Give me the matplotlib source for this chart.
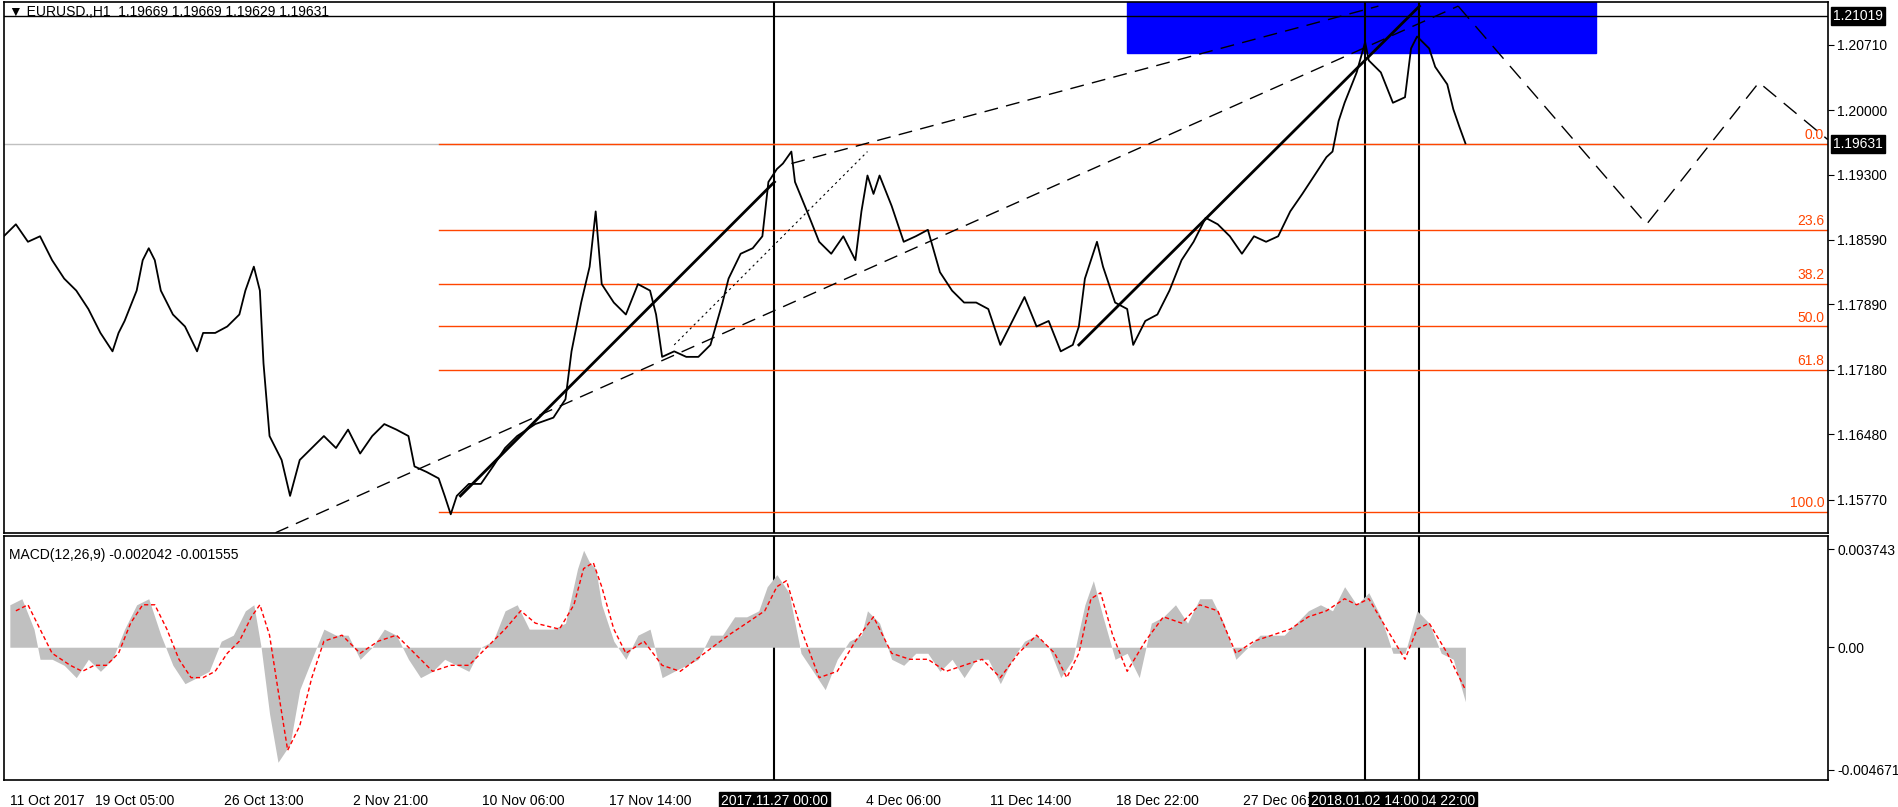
import matplotlib
matplotlib.use("Agg")
from matplotlib import pyplot as plt
from matplotlib.patches import Rectangle

# x positions are chart columns (bar-time proxy)
price_x = [0, 10, 20, 30, 40, 50, 60, 70, 80, 90, 95, 100, 110, 115, 120, 125, 130, 140, 150, 160, 165, 175, 185,
           195, 200, 207, 212, 215, 220, 230, 237, 245, 255, 265, 275, 285, 295, 305, 315, 325, 335, 340, 350, 360,
           365, 370, 375, 385, 395, 405, 415, 425, 440, 455, 465, 470, 478, 485, 490, 495, 505, 515, 525, 535, 540,
           545, 555, 565, 575, 585, 595, 600, 610, 620, 628, 633, 640, 645, 652, 655, 665, 675, 685, 695, 705, 710,
           715, 720, 725, 735, 745, 755, 765, 775, 785, 795, 805, 815, 825, 835, 845, 855, 865, 875, 885, 890, 895,
           905, 910, 920, 930, 935, 945, 955, 965, 975, 985, 995, 1005, 1015, 1025, 1035, 1045, 1055, 1065, 1075,
           1085, 1095, 1100, 1105, 1110, 1120, 1127, 1130, 1140, 1150, 1160, 1165, 1170, 1180, 1185, 1195, 1200,
           1205, 1210]
price = [1.1863, 1.1876, 1.1857, 1.1863, 1.1837, 1.1817, 1.1804, 1.1784, 1.1758, 1.1738, 1.1758, 1.1771, 1.1804,
         1.1837, 1.1850, 1.1837, 1.1804, 1.1778, 1.1765, 1.1738, 1.1758, 1.1758, 1.1765, 1.1778, 1.1804, 1.1830,
         1.1804, 1.1725, 1.1646, 1.1620, 1.1581, 1.1620, 1.1633, 1.1646, 1.1633, 1.1653, 1.1627, 1.1646, 1.1659,
         1.1653, 1.1646, 1.1613, 1.1607, 1.1600, 1.1581, 1.1561, 1.1581, 1.1594, 1.1594, 1.1613, 1.1633, 1.1646,
         1.1659, 1.1666, 1.1686, 1.1738, 1.1791, 1.1830, 1.1890, 1.1811, 1.1791, 1.1778, 1.1811, 1.1804, 1.1778,
         1.1732, 1.1738, 1.1732, 1.1732, 1.1745, 1.1791, 1.1817, 1.1844, 1.1850, 1.1863, 1.1922, 1.1936, 1.1942,
         1.1955, 1.1922, 1.1890, 1.1857, 1.1844, 1.1863, 1.1837, 1.1890, 1.1929, 1.1909, 1.1929, 1.1896, 1.1857,
         1.1863, 1.1870, 1.1824, 1.1804, 1.1791, 1.1791, 1.1784, 1.1745, 1.1771, 1.1797, 1.1765, 1.1771, 1.1738,
         1.1745, 1.1765, 1.1817, 1.1857, 1.1830, 1.1791, 1.1784, 1.1745, 1.1771, 1.1778, 1.1804, 1.1837, 1.1857,
         1.1883, 1.1876, 1.1863, 1.1844, 1.1863, 1.1857, 1.1863, 1.1890, 1.1909, 1.1929, 1.1949, 1.1955, 1.1988,
         1.2008, 1.2041, 1.2074, 1.2054, 1.2041, 1.2008, 1.2014, 1.2067, 1.2080, 1.2067, 1.2047, 1.2028, 1.2001,
         1.1982, 1.1964]

macd_x = [5, 15, 25, 30, 40, 50, 60, 70, 80, 90, 100, 110, 120, 130, 140, 150, 160, 170, 180, 190, 200, 207, 213,
          220, 227, 237, 245, 255, 265, 275, 285, 295, 305, 315, 325, 335, 345, 355, 365, 375, 385, 395, 405, 415,
          425, 435, 445, 455, 465, 475, 480, 485, 490, 495, 505, 515, 525, 535, 545, 555, 565, 575, 585, 595, 605,
          615, 625, 632, 640, 650, 660, 670, 680, 690, 700, 710, 715, 725, 735, 745, 755, 765, 775, 785, 795, 805,
          815, 825, 835, 845, 855, 865, 875, 885, 895, 902, 910, 920, 930, 940, 950, 960, 970, 980, 990, 1000, 1010,
          1020, 1030, 1040, 1050, 1060, 1070, 1080, 1090, 1100, 1110, 1120, 1130, 1140, 1150, 1160, 1170, 1180,
          1190, 1200, 1210]
macd = [0.00162, 0.00185, 0.00069, -0.00046, -0.00046, -0.00069, -0.00116, -0.00046, -0.00092, -0.00046, 0.00069,
        0.00162, 0.00185, 0.00046, -0.00069, -0.00139, -0.00116, -0.00092, 0.00023, 0.00046, 0.00139, 0.00162, 0.0,
        -0.00254, -0.00439, -0.00370, -0.00162, -0.00046, 0.00069, 0.00046, 0.00046, -0.00046, 0.0, 0.00069, 0.00046,
        -0.00046, -0.00116, -0.00092, -0.00046, -0.00069, -0.00092, 0.0, 0.00023, 0.00139, 0.00162, 0.00069, 0.00069,
        0.00069, 0.00092, 0.00300, 0.00370, 0.00323, 0.00300, 0.00162, 0.00023, -0.00046, 0.00046, 0.00069, -0.00116,
        -0.00092, -0.00069, -0.00046, 0.00046, 0.00046, 0.00116, 0.00116, 0.00139, 0.00231, 0.00277, 0.00208,
        -0.00023, -0.00092, -0.00162, -0.00046, 0.00023, 0.00046, 0.00139, 0.00092, -0.00046, -0.00069, -0.00023,
        -0.00023, -0.00092, -0.00046, -0.00116, -0.00046, -0.00046, -0.00139, -0.00046, 0.00023, 0.00046, 0.0,
        -0.00116, -0.00046, 0.00162, 0.00254, 0.00116, -0.00046, -0.00023, -0.00116, 0.00092, 0.00116, 0.00162,
        0.00092, 0.00185, 0.00185, 0.00092, -0.00046, 0.0, 0.00046, 0.00046, 0.00046, 0.00092, 0.00139, 0.00162,
        0.00139, 0.00231, 0.00162, 0.00208, 0.00116, -0.00023, -0.00023, 0.00139, 0.00092, -0.00023, -0.00046,
        -0.00208]

signal_x = [10, 20, 30, 40, 55, 65, 75, 85, 95, 105, 115, 125, 135, 145, 155, 165, 175, 185, 195, 205, 212, 220,
            227, 235, 245, 255, 265, 280, 295, 310, 325, 340, 355, 370, 385, 400, 415, 428, 440, 460, 472, 480, 488,
            495, 505, 515, 530, 545, 560, 580, 600, 615, 630, 640, 648, 660, 675, 690, 705, 720, 735, 750, 765, 780,
            795, 810, 825, 840, 855, 870, 880, 890, 900, 908, 918, 930, 945, 960, 975, 990, 1005, 1020, 1035, 1050,
            1065, 1080, 1095, 1110, 1120, 1130, 1145, 1160, 1170, 1180, 1195, 1210]
signal = [0.00139, 0.00162, 0.00069, -0.00023, -0.00069, -0.00092, -0.00069, -0.00069, -0.00023, 0.00092, 0.00162,
          0.00162, 0.00069, -0.00046, -0.00116, -0.00116, -0.00092, -0.00023, 0.00023, 0.00116, 0.00162, 0.00046,
          -0.00162, -0.00393, -0.00300, -0.00116, 0.00023, 0.00046, -0.00023, 0.00023, 0.00046, -0.00023, -0.00092,
          -0.00069, -0.00069, 0.0, 0.00069, 0.00139, 0.00092, 0.00069, 0.00162, 0.00300, 0.00323, 0.00231, 0.00069,
          -0.00023, 0.00023, -0.00069, -0.00092, -0.00023, 0.00046, 0.00092, 0.00139, 0.00231, 0.00254, 0.00069,
          -0.00116, -0.00092, 0.00023, 0.00116, -0.00023, -0.00046, -0.00046, -0.00092, -0.00069, -0.00046,
          -0.00116, -0.00023, 0.00046, -0.00023, -0.00116, -0.00023, 0.00185, 0.00208, 0.00046, -0.00092, 0.00023,
          0.00116, 0.00092, 0.00162, 0.00139, -0.00023, 0.00023, 0.00046, 0.00069, 0.00116, 0.00139, 0.00185,
          0.00162, 0.00185, 0.00069, -0.00046, 0.00069, 0.00092, -0.00023, -0.00162]

fib_levels = [1.1963, 1.1870, 1.1811, 1.1765, 1.1718, 1.1564]
fib_labels = ["0.0", "23.6", "38.2", "50.0", "61.8", "100.0"]
price_ticks = [1.20710, 1.20000, 1.19300, 1.18590, 1.17890, 1.17180, 1.16480, 1.15770]
macd_ticks = [0.003743, 0.0, -0.004671]
macd_tick_labels = ["0.003743", "0.00", "-0.004671"]
time_ticks = [5, 108, 215, 320, 430, 535, 638, 745, 850, 955, 1060, 1127, 1173]
time_labels = ["11 Oct 2017", "19 Oct 05:00", "26 Oct 13:00", "2 Nov 21:00", "10 Nov 06:00", "17 Nov 14:00",
               "2017.11.27 00:00", "4 Dec 06:00", "11 Dec 14:00", "18 Dec 22:00", "27 Dec 06:00",
               "2018.01.02 14:00", "2018.01.04 22:00"]
vlines = [638, 1127, 1172]

plt.rcParams["font.family"] = "Liberation Sans"
plt.rcParams["font.size"] = 10
fig = plt.figure(figsize=(18.98, 8.07), dpi=100)
ax = fig.add_axes([0.002, 0.340, 0.961, 0.657])
ax2 = fig.add_axes([0.002, 0.033, 0.961, 0.303])
XMAX = 1510
for a in (ax, ax2):
    a.set_xlim(0, XMAX)
    for s in a.spines.values():
        s.set_linewidth(1.2)
    a.tick_params(axis="y", right=True, left=False, labelright=True, labelleft=False, length=4, pad=3)
    a.tick_params(axis="x", length=0)
    for v in vlines:
        a.axvline(v, color="black", lw=1.5)

ax.set_ylim(1.15411, 1.2117)
ax.set_xticks([])
ax.set_yticks(price_ticks, [f"{t:.5f}" for t in price_ticks])

ax.add_patch(Rectangle((930, 1.2062), 388, 0.006, color="#0000ff", zorder=1))
ax.axhline(1.21019, color="black", lw=1)
ax.axhline(1.19631, color="#c0c0c0", lw=1)
for lv, lb in zip(fib_levels, fib_labels):
    ax.plot([360, XMAX], [lv, lv], color="#ff4500", lw=1)
    ax.text(XMAX - 3, lv + 0.0002, lb, color="#ff4500", ha="right", va="bottom", fontsize=10)

ax.plot(price_x, price, color="black", lw=1.3, zorder=3)
ax.plot([378, 638], [1.1581, 1.1922], color="black", lw=2, zorder=4)
ax.plot([890, 1172], [1.1745, 1.2113], color="black", lw=2, zorder=4)
ax.plot([225, 1204], [1.1541, 1.2113], color="black", lw=1, ls=(0, (10, 6)), zorder=2)
ax.plot([652, 1138], [1.1942, 1.2113], color="black", lw=1, ls=(0, (10, 6)), zorder=2)
ax.plot([555, 715], [1.1745, 1.1955], color="black", lw=0.8, ls=(0, (2, 3)), zorder=2)
ax.plot([1204, 1360, 1453, 1510], [1.2113, 1.1876, 1.2030, 1.1968], color="black", lw=1,
        ls=(0, (12, 7)), zorder=2)

box = dict(boxstyle="square,pad=0.15", fc="black", ec="black")
ax.text(1.003, 1.21019, "1.21019", color="white", va="center", ha="left", fontsize=10, bbox=box,
        transform=ax.get_yaxis_transform())
ax.text(1.003, 1.19631, "1.19631", color="white", va="center", ha="left", fontsize=10, bbox=box,
        transform=ax.get_yaxis_transform())
ax.text(0.003, 0.995, "\u25bc EURUSD.,H1  1.19669 1.19669 1.19629 1.19631", transform=ax.transAxes,
        va="top", ha="left", fontsize=10, family=["Liberation Sans", "DejaVu Sans"])

ax2.set_ylim(-0.00508, 0.00425)
ax2.set_yticks(macd_ticks, macd_tick_labels)
ax2.fill_between(macd_x, macd, 0, color="#c0c0c0", lw=0, zorder=2)
ax2.plot(signal_x, signal, color="red", lw=1, ls=(0, (3, 2)), zorder=3)
ax2.text(0.003, 0.95, "MACD(12,26,9) -0.002042 -0.001555", transform=ax2.transAxes, va="top", ha="left",
         fontsize=10)
ax2.set_xticks(time_ticks, [""] * len(time_ticks))
for i, (t, lb) in enumerate(zip(time_ticks, time_labels)):
    hl = lb.startswith("20")
    z = 30 - i if hl else 5
    ax2.text(t, -0.085, lb, transform=ax2.get_xaxis_transform(), ha="left" if t < 20 else "center", va="center",
             fontsize=10, color="white" if hl else "black", zorder=z,
             bbox=box if hl else dict(boxstyle="square,pad=0.15", fc="white", ec="none"))

fig.savefig("out.png", dpi=100)
